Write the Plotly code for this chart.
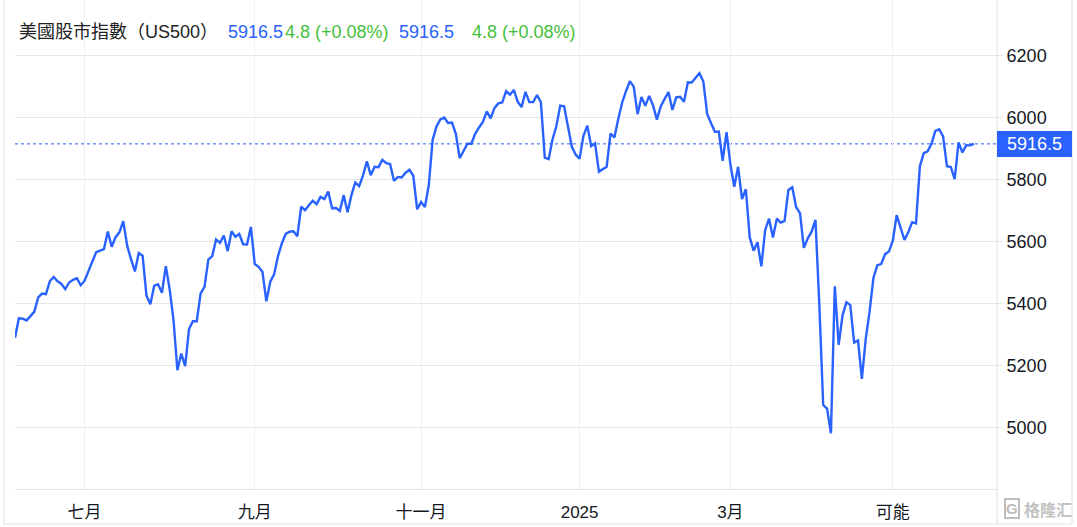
import pandas as pd
import plotly.graph_objects as go

# ---------------- data ----------------
HOLIDAYS = ["2024-06-19", "2024-07-04", "2024-09-02", "2024-11-28", "2024-12-25",
            "2025-01-01", "2025-01-09", "2025-01-20", "2025-02-17", "2025-04-18",
            "2025-05-26"]
dates = [d.strftime("%Y-%m-%d") for d in pd.bdate_range("2024-06-04", "2025-06-02")
         if d.strftime("%Y-%m-%d") not in HOLIDAYS]

jun24 = [5291.3, 5354.0, 5353.0, 5347.0, 5360.8, 5375.3, 5421.0, 5433.7, 5431.6, 5473.2,
         5487.0, 5473.2, 5464.6, 5447.9, 5469.3, 5477.9, 5482.9, 5460.5]
jul24 = [5475.1, 5509.0, 5537.0, 5567.2, 5572.9, 5577.0, 5633.9, 5584.5, 5615.4, 5631.2,
         5667.2, 5588.3, 5544.6, 5505.0, 5564.4, 5555.7, 5427.1, 5399.2, 5459.1, 5463.5,
         5436.4, 5522.3]
aug24 = [5446.7, 5346.6, 5186.3, 5240.0, 5199.5, 5319.3, 5344.2, 5344.4, 5434.4, 5455.2,
         5543.2, 5554.3, 5608.3, 5597.1, 5620.9, 5570.6, 5634.6, 5616.8, 5625.8, 5592.2,
         5592.0, 5648.4]
sep24 = [5528.9, 5520.1, 5503.4, 5408.4, 5471.1, 5495.5, 5554.1, 5595.8, 5626.0, 5633.1,
         5634.6, 5618.3, 5713.6, 5702.6, 5718.6, 5732.9, 5722.3, 5745.4, 5738.2, 5762.5]
oct24 = [5708.8, 5709.5, 5699.9, 5751.1, 5695.9, 5751.1, 5792.0, 5780.1, 5815.0, 5859.9,
         5815.3, 5842.5, 5841.5, 5864.7, 5854.0, 5851.2, 5797.4, 5809.9, 5808.1, 5823.5,
         5832.9, 5813.7, 5705.5]
nov24 = [5728.8, 5712.7, 5782.8, 5929.0, 5973.1, 5995.5, 6001.4, 5984.0, 5985.4, 5949.2,
         5870.6, 5893.6, 5917.0, 5917.1, 5948.7, 5969.3, 5987.4, 6021.6, 5998.7, 6032.4]
dec24 = [6047.2, 6049.9, 6086.5, 6075.1, 6090.3, 6052.9, 6034.9, 6084.2, 6051.3, 6051.1,
         6074.1, 6050.6, 5872.2, 5867.1, 5930.9, 5974.1, 6040.0, 6037.6, 5970.8, 5906.9,
         5881.6]
jan25 = [5868.6, 5942.5, 5975.4, 5909.0, 5918.3, 5827.0, 5836.2, 5842.9, 5949.9, 5937.3,
         5996.7, 6049.2, 6086.4, 6118.7, 6101.2, 6012.3, 6067.7, 6039.3, 6071.2, 6040.5]
feb25 = [5994.6, 6037.9, 6061.5, 6083.6, 6026.0, 6066.4, 6068.5, 6052.0, 6115.1, 6114.6,
         6129.6, 6144.2, 6117.5, 6013.1, 5983.3, 5955.3, 5956.1, 5861.6, 5954.5]
mar25 = [5849.7, 5778.2, 5842.6, 5738.5, 5770.2, 5614.6, 5572.1, 5599.3, 5521.5, 5638.9,
         5675.1, 5614.7, 5675.3, 5662.9, 5667.6, 5767.6, 5776.7, 5712.2, 5693.3, 5580.9,
         5611.9]
apr25 = [5633.1, 5671.0, 5396.5, 5074.1, 5062.3, 4982.8, 5456.9, 5268.1, 5363.4, 5406.0,
         5396.6, 5275.7, 5282.7, 5158.2, 5287.8, 5375.9, 5484.8, 5525.2, 5528.8, 5560.8,
         5569.1]
may25 = [5604.1, 5686.7, 5650.4, 5606.9, 5631.3, 5663.9, 5659.9, 5844.2, 5886.6, 5892.6,
         5916.9, 5958.4, 5963.6, 5940.5, 5844.6, 5842.0, 5802.8, 5921.5, 5888.6, 5912.2,
         5911.7]
jun25 = [5916.5]

values = (jun24 + jul24 + aug24 + sep24 + oct24 + nov24 + dec24 + jan25 + feb25
          + mar25 + apr25 + may25 + jun25)
assert len(values) == len(dates), (len(values), len(dates))

last_price = values[-1]
change = 4.8
change_pct = "+0.08%"

tick_dates = ["2024-07-01", "2024-09-03", "2024-11-01", "2025-01-02", "2025-03-03", "2025-05-01"]
tick_labels = ["七月", "九月", "十一月", "2025", "3月", "可能"]
y_ticks = [5000, 5200, 5400, 5600, 5800, 6000, 6200]

title_text = "美國股市指數（US500）"

# ---------------- style ----------------
BLUE = "#2962FF"
GREEN = "#45bf3c"
FONT = "Liberation Sans, Arial, Noto Sans CJK TC, sans-serif"
W, H = 1077, 527
ML, MR, MT, MB = 15, 80, 0, 38
PW = W - ML - MR
PH = H - MT - MB


def px_x(px):
    return (px - ML) / PW


def px_y(py):
    return (MT + PH - py) / PH


fig = go.Figure()
fig.add_trace(go.Scatter(
    x=dates, y=values, mode="lines",
    line=dict(color=BLUE, width=2.4),
    hoverinfo="x+y", showlegend=False,
))

fig.add_shape(type="line", xref="paper", x0=0, x1=1, yref="y", y0=last_price, y1=last_price,
              line=dict(color=BLUE, width=1, dash="dot"), layer="below")

# frame lines
BORDER = "#e0e0e0"
for (x0, y0, x1, y1) in [
    (px_x(4), px_y(524), px_x(4), 1),
    (px_x(997), px_y(524), px_x(997), 1),
    (px_x(1072), px_y(524), px_x(1072), 1),
    (px_x(4), px_y(524), px_x(1072), px_y(524)),
]:
    fig.add_shape(type="line", xref="paper", yref="paper", x0=x0, y0=y0, x1=x1, y1=y1,
                  line=dict(color=BORDER, width=1))

# title row
title_y = px_y(32)
parts = [
    (17, title_text, "#222222"),
    (226, f"{last_price}", BLUE),
    (283, f"{change} ({change_pct})", GREEN),
    (397, f"{last_price}", BLUE),
    (470, f"{change} ({change_pct})", GREEN),
]
for px, txt, col in parts:
    fig.add_annotation(xref="paper", yref="paper", x=px_x(px), y=title_y, text=txt,
                       showarrow=False, xanchor="left", yanchor="middle",
                       font=dict(family=FONT, size=18, color=col))

# last price label on the axis
fig.add_annotation(xref="paper", yref="y", x=1, y=last_price, text=f"{last_price}",
                   showarrow=False, xanchor="left", yanchor="middle",
                   bgcolor=BLUE, borderwidth=0, borderpad=2, width=71, height=22,
                   align="center", font=dict(family=FONT, size=18, color="white"))

# watermark
fig.add_annotation(xref="paper", yref="paper", x=px_x(1012), y=px_y(509), text="<b>G</b>",
                   showarrow=False, xanchor="center", yanchor="middle",
                   bordercolor="#bdbdbd", borderwidth=2, borderpad=0,
                   font=dict(family=FONT, size=15, color="#bdbdbd"))
fig.add_annotation(xref="paper", yref="paper", x=px_x(1048), y=px_y(509), text="<b>格隆汇</b>",
                   showarrow=False, xanchor="center", yanchor="middle",
                   font=dict(family="Noto Sans CJK SC", size=16, color="#c2c2c2"))

fig.update_layout(
    width=W, height=H, autosize=False,
    margin=dict(l=ML, r=MR, t=MT, b=MB, pad=0),
    paper_bgcolor="white", plot_bgcolor="white",
    font=dict(family=FONT, color="#131722"),
    xaxis=dict(
        type="category", range=[0, PW / 3.867],
        tickvals=tick_dates, ticktext=tick_labels,
        showgrid=True, gridcolor="#eef1f6", gridwidth=1,
        showline=True, linecolor="#e0e3eb", linewidth=1,
        ticks="", ticklabelstandoff=8,
        tickfont=dict(family=FONT, size=17, color="#131722"),
        zeroline=False, fixedrange=True,
    ),
    yaxis=dict(
        side="right", range=[4803.2, 6380.6],
        tickvals=y_ticks, ticktext=[str(v) for v in y_ticks],
        showgrid=True, gridcolor="#e6e6e6", gridwidth=1,
        ticks="outside", ticklen=5, tickcolor="#e6e6e6",
        showline=False, zeroline=False,
        tickfont=dict(family=FONT, size=18, color="#131722"),
        fixedrange=True,
    ),
    hovermode="x",
)

fig.write_html("out.html", config={"displayModeBar": False},
               post_script="document.body.style.margin='0';document.body.style.overflow='hidden';")
